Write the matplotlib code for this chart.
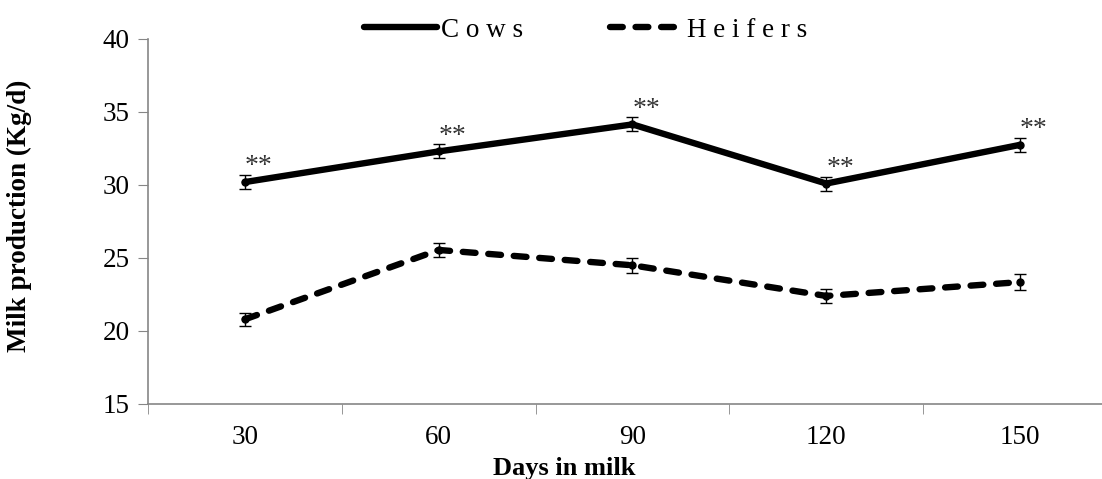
import numpy as np
import matplotlib
matplotlib.use('Agg')
import matplotlib.pyplot as plt

# Chart data
days = ['30', '60', '90', '120', '150']
cows = [30.2, 32.3, 34.15, 30.1, 32.75]
cows_err = [0.47, 0.48, 0.48, 0.48, 0.48]
heifers = [20.8, 25.55, 24.5, 22.4, 23.35]
heifers_err = [0.45, 0.45, 0.5, 0.48, 0.55]
stars = ['**', '**', '**', '**', '**']

plt.rcParams['font.family'] = ['Liberation Serif', 'DejaVu Serif']

fig = plt.figure(figsize=(11.02, 4.79), dpi=100)
ax = fig.add_axes([0.1343, 0.1566, 0.8793, 0.762])

x = np.arange(len(days))
gray = '#868686'

# lines (used for legend)
ax.plot(x, cows, color='black', lw=4.6, solid_capstyle='round', label='C o w s', zorder=3)
ax.plot(x, heifers, color='black', lw=4.6, ls=(0, (2.0, 2.0)), dash_capstyle='round',
        label='H e i f e r s', zorder=3)
ax.plot(x, cows, 'o', color='black', ms=5, zorder=4)
ax.plot(x, heifers, 'o', color='black', ms=5, zorder=4)

# error bars
ax.errorbar(x, cows, yerr=cows_err, fmt='none', ecolor='black', elinewidth=1,
            capsize=4.3, capthick=1, zorder=5)
ax.errorbar(x, heifers, yerr=heifers_err, fmt='none', ecolor='black', elinewidth=1,
            capsize=4.3, capthick=1, zorder=5)

# significance marks above cows
for xi, yi, ei, s in zip(x, cows, cows_err, stars):
    ax.annotate(s, (xi, yi + ei), xytext=(10, -3), textcoords='offset points',
                ha='center', va='bottom', fontsize=20, color='#333333')

ax.set_xlim(-0.5, len(days) - 0.5)
ax.set_ylim(15, 40)
ax.set_yticks(range(15, 41, 5))
ax.set_xticks(x)
ax.set_xticklabels(days)
ax.set_xticks(np.arange(len(days) + 1) - 0.5, minor=True)
ax.tick_params(axis='x', which='major', length=0, pad=15, labelsize=19.5)
ax.tick_params(axis='x', which='minor', length=7, color=gray, direction='out')
ax.tick_params(axis='y', length=7, color=gray, pad=6, labelsize=19.5)

for side in ['top', 'right']:
    ax.spines[side].set_visible(False)
for side in ['left', 'bottom']:
    ax.spines[side].set_color(gray)
    ax.spines[side].set_linewidth(1.2)

ax.set_ylabel('Milk production (Kg/d)', fontsize=19.5, fontweight='bold')
ax.yaxis.set_label_coords(-0.12, 0.515)
ax.set_xlabel('Days in milk', fontsize=19, fontweight='bold')
ax.xaxis.set_label_coords(0.43, -0.144)

ax.legend(loc='upper center', bbox_to_anchor=(586 / 1102, 1.0), ncol=2,
          bbox_transform=fig.transFigure, frameon=False, fontsize=19.5,
          handlelength=2.7, handletextpad=0.15, columnspacing=3.2,
          borderaxespad=0.25)

fig.savefig('out.png', dpi=100)
